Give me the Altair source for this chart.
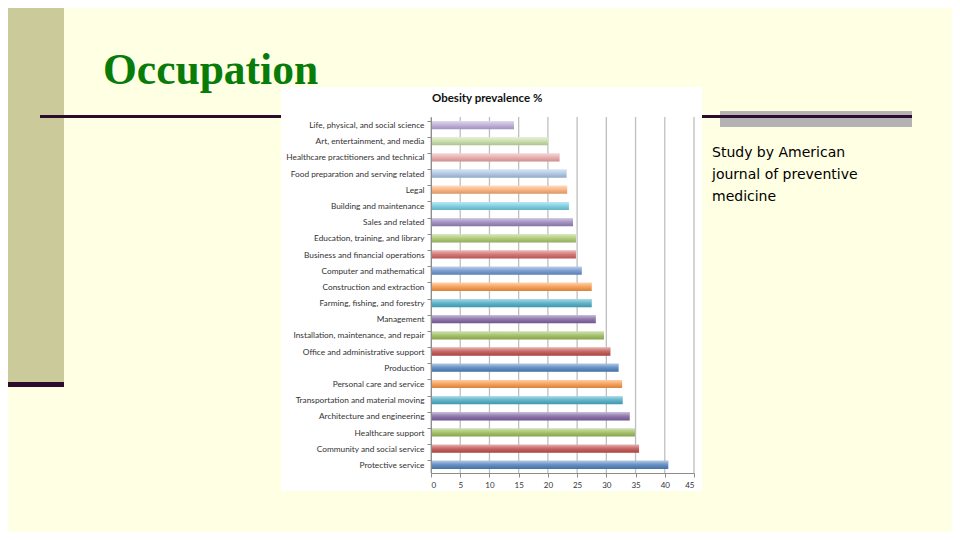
import altair as alt
import pandas as pd

# ---- data ----
categories = [
    "Life, physical, and social science",
    "Art, entertainment, and media",
    "Healthcare practitioners and technical",
    "Food preparation and serving related",
    "Legal",
    "Building and maintenance",
    "Sales and related",
    "Education, training, and library",
    "Business and financial operations",
    "Computer and mathematical",
    "Construction and extraction",
    "Farming, fishing, and forestry",
    "Management",
    "Installation, maintenance, and repair",
    "Office and administrative support",
    "Production",
    "Personal care and service",
    "Transportation and material moving",
    "Architecture and engineering",
    "Healthcare support",
    "Community and social service",
    "Protective service",
]
values = [14.2, 20.0, 22.0, 23.2, 23.3, 23.6, 24.3, 24.8, 24.8, 25.8, 27.5,
          27.5, 28.2, 29.6, 30.7, 32.1, 32.7, 32.8, 34.0, 34.9, 35.6, 40.6]
bar_colors = [
    "#B9A9D5", "#C5DDA5", "#E8A6A5", "#A9C2E4", "#F9AD72", "#72CBE0",
    "#9A85BA", "#A9C66B", "#D06462", "#6A93CC", "#F79646", "#4BACC6",
    "#8064A2", "#9BBB59", "#C0504D", "#4F81BD", "#F79646", "#4BACC6",
    "#8064A2", "#9BBB59", "#C0504D", "#4F81BD",
]
x_ticks = [0, 5, 10, 15, 20, 25, 30, 35, 40, 45]
slide_title = ["Occupation"]
chart_title = ["Obesity prevalence %"]
side_text = ["Study by American", "journal  of preventive", "medicine"]

df = pd.DataFrame({"cat": categories, "val": values})
grid_df = pd.DataFrame({"g": x_ticks})
one = pd.DataFrame({"k": [0]})

W, H = 263, 356  # plot area of the embedded bar chart

# ---- slide decorations (pixel positions relative to plot area) ----
sidebar = alt.Chart(one).mark_rect(color="#CACA9A").encode(
    x=alt.value(-423), x2=alt.value(-367), y=alt.value(-109), y2=alt.value(265))
sidebar_bar = alt.Chart(one).mark_rect(color="#2D0B2D").encode(
    x=alt.value(-423), x2=alt.value(-367), y=alt.value(265), y2=alt.value(270))
gray_bar = alt.Chart(one).mark_rect(color="#B3B3B3").encode(
    x=alt.value(289), x2=alt.value(481), y=alt.value(-6), y2=alt.value(10))
dark_line = alt.Chart(one).mark_rect(color="#2D0B2D").encode(
    x=alt.value(-391), x2=alt.value(481), y=alt.value(-2), y2=alt.value(1))
white_box = alt.Chart(one).mark_rect(color="#FFFFFF").encode(
    x=alt.value(-150), x2=alt.value(271), y=alt.value(-30), y2=alt.value(374))

title_txt = alt.Chart(pd.DataFrame({"t": slide_title})).mark_text(
    font="Liberation Serif", fontWeight="bold", fontSize=43.5, color="#087C08",
    align="left", baseline="alphabetic").encode(
    x=alt.value(-328), y=alt.value(-33), text="t:N")

side_layers = []
for line, ypos in zip(side_text, [36, 58, 80]):
    side_layers.append(
        alt.Chart(pd.DataFrame({"t": [line]})).mark_text(
            font="DejaVu Sans", fontSize=14, color="#000000", align="left",
            baseline="middle").encode(x=alt.value(281), y=alt.value(ypos), text="t:N"))

ctitle = alt.Chart(pd.DataFrame({"t": chart_title})).mark_text(
    font="Lato", fontWeight="bold", fontSize=11.5, color="#111111",
    align="left", baseline="middle").encode(
    x=alt.value(1), y=alt.value(-18), text="t:N")

# ---- bar chart ----
xscale = alt.Scale(domain=[0, 45], nice=False)
yscale = alt.Scale(domain=categories, paddingInner=0.5, paddingOuter=0.25)
xaxis = alt.Axis(values=x_ticks, grid=False, title=None, labelFont="Lato",
                 labelFontSize=8, labelColor="#333333", tickColor="#8C8C8C",
                 domainColor="#8C8C8C", tickSize=4, labelPadding=4,
                 zindex=1, format="d")
yaxis = alt.Axis(title=None, labelFont="Lato", labelFontSize=8.3,
                 labelColor="#333333", tickColor="#8C8C8C",
                 domainColor="#8C8C8C", tickSize=4, labelPadding=3,
                 bandPosition=0, labelOffset=1, zindex=1)

grid = alt.Chart(grid_df).mark_rule(color="#BFBFBF", strokeWidth=1.3).encode(
    x=alt.X("g:Q", scale=xscale, axis=xaxis),
    y=alt.value(0), y2=alt.value(H))

bars = alt.Chart(df).mark_bar().encode(
    x=alt.X("val:Q", scale=xscale, axis=xaxis),
    y=alt.Y("cat:N", sort=categories, scale=yscale, axis=yaxis),
    color=alt.Color("cat:N", scale=alt.Scale(domain=categories, range=bar_colors),
                    legend=None),
)

gloss = alt.Chart(df).mark_bar(
    color=alt.LinearGradient(
        gradient="linear", x1=0, x2=0, y1=0, y2=1,
        stops=[alt.GradientStop(offset=0, color="rgba(255,255,255,0.55)"),
               alt.GradientStop(offset=0.45, color="rgba(255,255,255,0.15)"),
               alt.GradientStop(offset=1, color="rgba(0,0,0,0.12)")])
).encode(
    x=alt.X("val:Q", scale=xscale, axis=xaxis),
    y=alt.Y("cat:N", sort=categories, scale=yscale, axis=yaxis),
)

chart = alt.layer(
    sidebar, sidebar_bar, gray_bar, dark_line, white_box, title_txt,
    *side_layers, ctitle, grid, bars, gloss
).properties(
    width=W, height=H,
    autosize=alt.AutoSizeParams(type="none"),
    padding={"left": 423, "top": 109, "right": 258, "bottom": 59},
    background="#FFFFE3",
).configure_view(stroke="transparent")

chart.save("out.html", embed_options={"renderer": "svg", "actions": False})
